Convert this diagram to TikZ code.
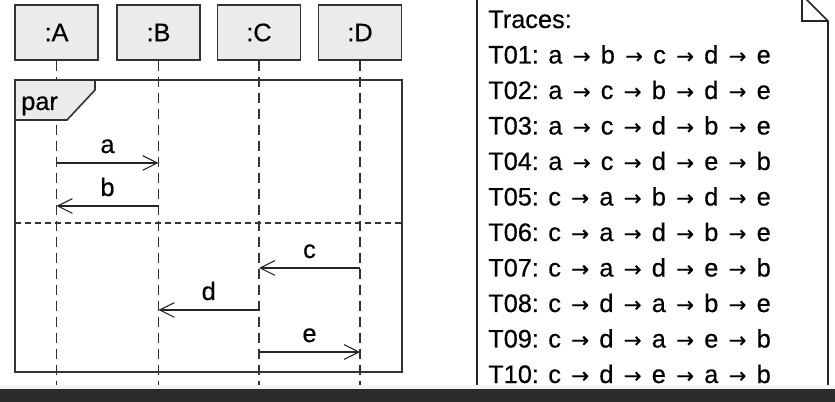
\documentclass[tikz,border=0pt]{standalone}
\usepackage{fontspec}
\setmainfont{Liberation Sans}[FakeBold=0.5]
\newfontfamily\arrowfont{DejaVu Sans}[FakeBold=0.3]
\newcommand\tarr{\hspace{2.4pt}{\fontsize{16pt}{16pt}\arrowfont →}\hspace{2.4pt}}
\usetikzlibrary{arrows.meta}
\definecolor{lc}{HTML}{333333}
\definecolor{boxfill}{HTML}{EBEBEB}
\definecolor{lightband}{HTML}{F4F4F4}
\definecolor{darkband}{HTML}{2B2B2E}
\tikzset{
  objbox/.style={draw=lc, fill=boxfill, line width=1.3pt, minimum width=62.25pt, minimum height=41.25pt, inner sep=0pt},
  lifeline/.style={draw=lc, line width=1.1pt, dash pattern=on 7.5pt off 4.5pt},
  divider/.style={draw=lc, line width=0.9pt, dash pattern=on 4.5pt off 3pt},
  frame/.style={draw=lc, line width=1.3pt},
  tabshape/.style={draw=lc, fill=boxfill, line width=1.2pt},
  msg/.style={draw=black!85, line width=0.8pt, -{Straight Barb[length=11pt,width=11pt]}},
  msglabel/.style={anchor=base, yshift=7.5pt},
  notestyle/.style={draw=black!85, fill=white, line width=1.2pt},
  tracetext/.style={anchor=base west, inner sep=0pt},
}
\begin{document}
\begin{tikzpicture}[x=0.75pt, y=-0.75pt, font=\fontsize{19pt}{23pt}\selectfont]
\useasboundingbox (0,0) rectangle (835,402);
\clip (0,0) rectangle (835,402);
\fill[white] (0,0) rectangle (835,402);
% object boxes
\node[objbox] (A) at (56.5,32.5) {:A};
\node[objbox] (B) at (158.5,32.5) {:B};
\node[objbox] (C) at (259,32.5) {:C};
\node[objbox] (D) at (360,32.5) {:D};
% lifeline ends
\coordinate (Aend) at (A.south |- 0,392);
\coordinate (Bend) at (B.south |- 0,392);
\coordinate (Cend) at (C.south |- 0,392);
\coordinate (Dend) at (D.south |- 0,392);
\draw[lifeline] (A.south) -- (Aend);
\draw[lifeline] (B.south) -- (Bend);
\draw[lifeline] (C.south) -- (Cend);
\draw[lifeline] (D.south) -- (Dend);
% par frame
\draw[frame] (15,80) rectangle (402,372);
\draw[tabshape] (15,80) -- (95,80) -- (95,90) -- (67,120) -- (15,120) -- cycle;
\node[anchor=base west, inner sep=0pt] (par) at (21,110) {par};
\draw[divider] (15,223) -- (402,223);
% message points
\coordinate (a1) at (A.south |- 0,163);
\coordinate (a2) at (B.south |- 0,163);
\coordinate (b1) at (B.south |- 0,206);
\coordinate (b2) at (A.south |- 0,206);
\coordinate (c1) at (D.south |- 0,268);
\coordinate (c2) at (C.south |- 0,268);
\coordinate (d1) at (C.south |- 0,310);
\coordinate (d2) at (B.south |- 0,310);
\coordinate (e1) at (C.south |- 0,352);
\coordinate (e2) at (D.south |- 0,352);
\draw[msg] (a1) -- (a2) node[midway, msglabel] {a};
\draw[msg] (b1) -- (b2) node[midway, msglabel] {b};
\draw[msg] (c1) -- (c2) node[midway, msglabel] {c};
\draw[msg] (d1) -- (d2) node[midway, msglabel] {d};
\draw[msg] (e1) -- (e2) node[midway, msglabel] {e};
% note
\draw[notestyle] (477,395) -- (477,-5) -- (802,-5) -- (828,21) -- (828,395);
\draw[notestyle, fill=none] (802,-5) -- (802,21) -- (828,21);
\node[tracetext] (t0) at (488,28) {Traces:};
\node[tracetext] (t1) at (488,63.5) {T01: a \tarr{} b \tarr{} c \tarr{} d \tarr{} e};
\node[tracetext] (t2) at (488,99) {T02: a \tarr{} c \tarr{} b \tarr{} d \tarr{} e};
\node[tracetext] (t3) at (488,134.5) {T03: a \tarr{} c \tarr{} d \tarr{} b \tarr{} e};
\node[tracetext] (t4) at (488,170) {T04: a \tarr{} c \tarr{} d \tarr{} e \tarr{} b};
\node[tracetext] (t5) at (488,205.5) {T05: c \tarr{} a \tarr{} b \tarr{} d \tarr{} e};
\node[tracetext] (t6) at (488,241) {T06: c \tarr{} a \tarr{} d \tarr{} b \tarr{} e};
\node[tracetext] (t7) at (488,276.5) {T07: c \tarr{} a \tarr{} d \tarr{} e \tarr{} b};
\node[tracetext] (t8) at (488,312) {T08: c \tarr{} d \tarr{} a \tarr{} b \tarr{} e};
\node[tracetext] (t9) at (488,347.5) {T09: c \tarr{} d \tarr{} a \tarr{} e \tarr{} b};
\node[tracetext] (t10) at (488,383) {T10: c \tarr{} d \tarr{} e \tarr{} a \tarr{} b};
% bottom bands
\fill[lightband] (0,385) rectangle (835,389.5);
\fill[darkband] (0,389.5) rectangle (835,402);
\end{tikzpicture}
\end{document}
